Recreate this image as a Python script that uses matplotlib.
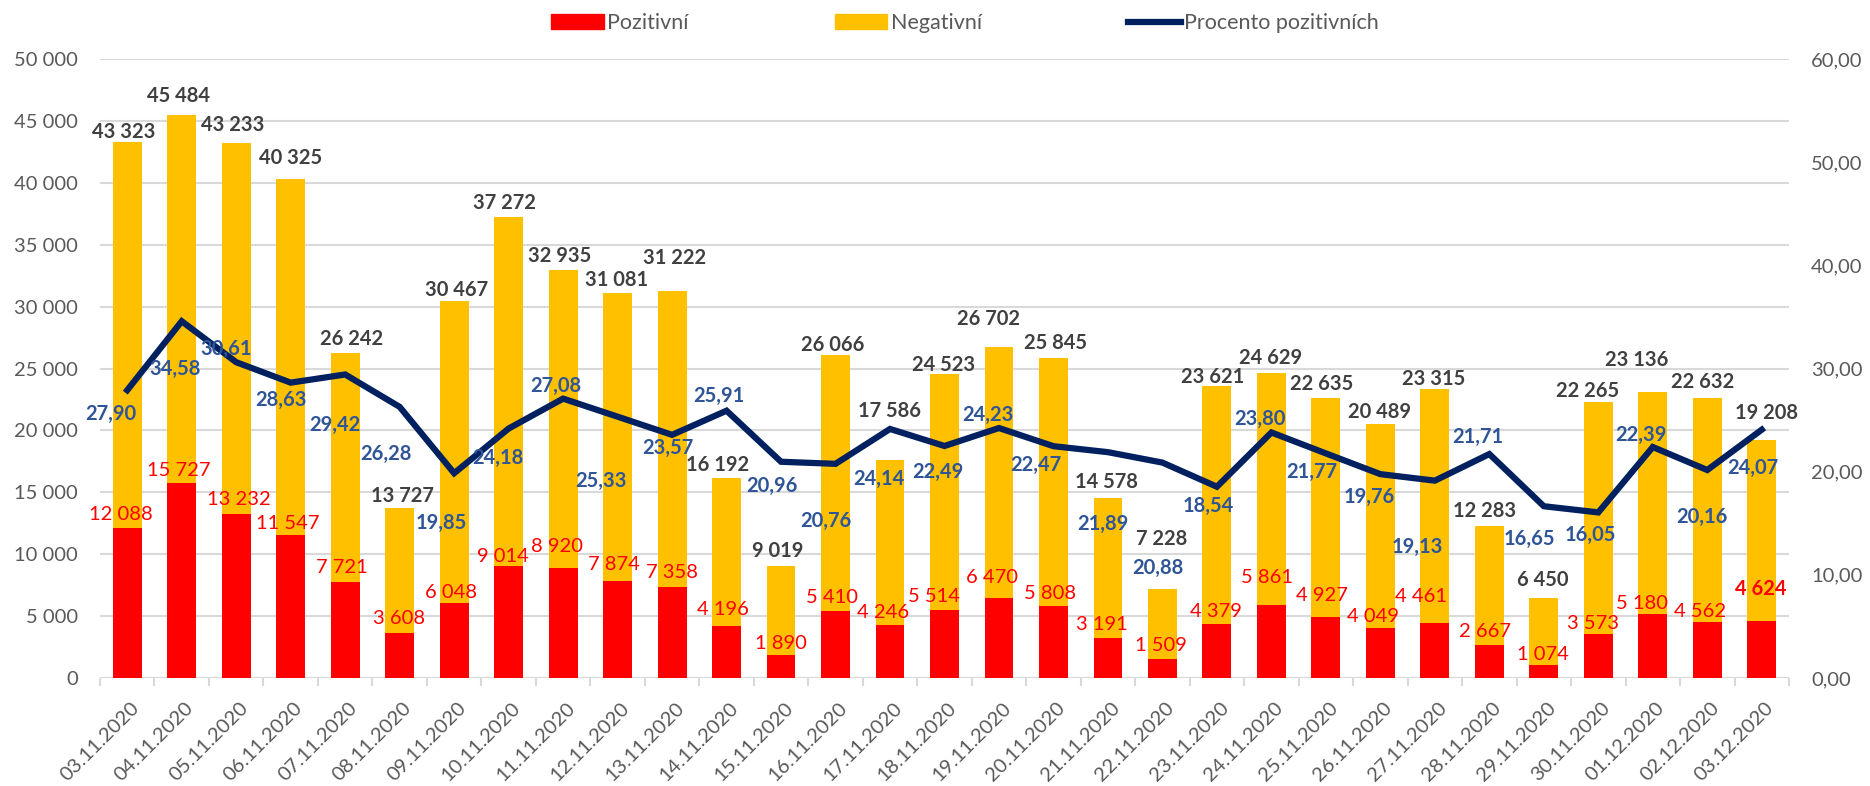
import matplotlib
matplotlib.use("Agg")
import matplotlib.pyplot as plt
from matplotlib.patches import Patch
from matplotlib.lines import Line2D
from matplotlib.transforms import ScaledTranslation
import numpy as np

# ---------------- data ----------------
dates = ["03.11.2020", "04.11.2020", "05.11.2020", "06.11.2020", "07.11.2020", "08.11.2020",
         "09.11.2020", "10.11.2020", "11.11.2020", "12.11.2020", "13.11.2020", "14.11.2020",
         "15.11.2020", "16.11.2020", "17.11.2020", "18.11.2020", "19.11.2020", "20.11.2020",
         "21.11.2020", "22.11.2020", "23.11.2020", "24.11.2020", "25.11.2020", "26.11.2020",
         "27.11.2020", "28.11.2020", "29.11.2020", "30.11.2020", "01.12.2020", "02.12.2020",
         "03.12.2020"]
totals = [43323, 45484, 43233, 40325, 26242, 13727, 30467, 37272, 32935, 31081, 31222,
          16192, 9019, 26066, 17586, 24523, 26702, 25845, 14578, 7228, 23621, 24629,
          22635, 20489, 23315, 12283, 6450, 22265, 23136, 22632, 19208]
positives = [12088, 15727, 13232, 11547, 7721, 3608, 6048, 9014, 8920, 7874, 7358,
             4196, 1890, 5410, 4246, 5514, 6470, 5808, 3191, 1509, 4379, 5861,
             4927, 4049, 4461, 2667, 1074, 3573, 5180, 4562, 4624]
percent = [27.90, 34.58, 30.61, 28.63, 29.42, 26.28, 19.85, 24.18, 27.08, 25.33, 23.57,
           25.91, 20.96, 20.76, 24.14, 22.49, 24.23, 22.47, 21.89, 20.88, 18.54, 23.80,
           21.77, 19.76, 19.13, 21.71, 16.65, 16.05, 22.39, 20.16, 24.07]
negatives = [t - p for t, p in zip(totals, positives)]

series_names = ["Pozitivní", "Negativní", "Procento pozitivních"]

# ---------------- label layout (offsets from the value anchor) ----------------
tot_dx = [-0.06, -0.06, -0.06, -0.01, 0.12, 0.05, 0.04, -0.07, -0.06, -0.01, 0.05,
          -0.17, -0.06, -0.05, -0.01, -0.02, -0.19, 0.04, -0.02, -0.02, -0.08, -0.01,
          -0.07, -0.02, -0.03, -0.08, -0.02, -0.20, -0.30, -0.08, 0.09]
tot_dy = [746, 1525, 1457, 1673, 1138, 1006, 872, 1118, 1182, 1090, 2742,
          1012, 1207, 847, 4012, 783, 2311, 1254, 1237, 4015, 666, 1233,
          1128, 1012, 811, 1231, 1465, 941, 2549, 1301, 2170]
pos_dx = [-0.11, -0.06, 0.05, -0.06, -0.06, -0.01, -0.06, -0.10, -0.11, -0.07, -0.01,
          -0.07, -0.01, -0.07, -0.13, -0.19, -0.13, -0.07, -0.12, -0.02, -0.02, -0.08,
          -0.08, -0.13, -0.25, -0.08, -0.02, -0.09, -0.19, -0.14, -0.02]
pos_dy = [1158, 1073, 1193, 932, 1204, 1158, 866, 776, 1701, 1269, 1163,
          1329, 913, 1100, 1028, 1093, 1688, 1041, 1098, 1140, 992, 2232,
          1736, 918, 2109, 1128, 784, 845, 853, 793, 2565]
pct_dx = [-0.30, -0.13, -0.19, -0.18, -0.19, -0.25, -0.24, -0.19, -0.13, -0.30, -0.08,
          -0.15, -0.17, -0.17, -0.21, -0.13, -0.21, -0.33, -0.09, -0.09, -0.15, -0.21,
          -0.26, -0.20, -0.32, -0.21, -0.27, -0.15, -0.21, -0.09, -0.16]
pct_dy = [-2.35, -4.58, 1.32, -1.67, -4.91, -4.56, -4.87, -2.89, 1.25, -6.20, -1.29,
          1.42, -2.35, -5.52, -4.82, -2.50, 1.24, -1.82, -6.99, -10.17, -1.90, 1.27,
          -1.78, -2.19, -6.46, 1.68, -3.21, -2.19, 1.16, -4.52, -3.74]

# ---------------- style ----------------
FONT = ["Lato", "DejaVu Sans"]
plt.rcParams["font.family"] = FONT
RED = "#FF0000"
YELLOW = "#FFC000"
NAVY = "#002060"
BLUE = "#2F5597"
DARK = "#404040"
GREY = "#595959"
GRID = "#D9D9D9"
FS = 14.5

fig = plt.figure(figsize=(18.7, 7.86), dpi=100)
ax = fig.add_axes([100 / 1870, 1 - 678 / 786, (1789 - 100) / 1870, (678 - 59) / 786])
ax2 = ax.twinx()

x = np.arange(len(dates))
bw = 0.53
ax.bar(x, positives, bw, color=RED, zorder=2, label=series_names[0])
ax.bar(x, negatives, bw, bottom=positives, color=YELLOW, zorder=2, label=series_names[1])
ax2.plot(x, percent, color=NAVY, lw=4.5, zorder=3, solid_joinstyle="miter",
         label=series_names[2])

ax.set_xlim(-0.5, len(dates) - 0.5)
ax.set_ylim(0, 50000)
ax2.set_ylim(0, 60)
ax.set_yticks(np.arange(0, 50001, 5000))
ax.set_yticklabels([f"{v:,}".replace(",", " ") for v in range(0, 50001, 5000)])
ax2.set_yticks(np.arange(0, 61, 10))
ax2.set_yticklabels([f"{v:.2f}".replace(".", ",") for v in range(0, 61, 10)])

ax.grid(axis="y", color=GRID, lw=1.5, zorder=0)
ax.set_axisbelow(True)
for a in (ax, ax2):
    for s in ("top", "left", "right", "bottom"):
        a.spines[s].set_visible(False)
ax.axhline(0, color=GRID, lw=1.5, zorder=1)

ax.tick_params(axis="y", length=0, pad=16, labelsize=FS, labelcolor=GREY)
ax2.tick_params(axis="y", length=0, pad=16, labelsize=FS, labelcolor=GREY)

# category boundary tick marks
ax.set_xticks(np.arange(-0.5, len(dates), 1.0), minor=True)
ax.tick_params(axis="x", which="minor", length=6, width=1.5, color=GRID)
ax.set_xticks(x)
ax.set_xticklabels(dates, rotation=45, ha="right", va="center", rotation_mode="anchor")
ax.tick_params(axis="x", which="major", length=0, pad=19.5, labelsize=14.5, labelcolor=GREY)
shift = ScaledTranslation(9 / 100, 0, fig.dpi_scale_trans)
for lab in ax.get_xticklabels():
    lab.set_transform(lab.get_transform() + shift)

# ---------------- data labels ----------------
for i in range(len(dates)):
    ax2.text(i + tot_dx[i], totals[i] + tot_dy[i], f"{totals[i]:,}".replace(",", " "),
             transform=ax.transData, ha="center", va="center", fontsize=FS,
             fontweight="bold", color=DARK, zorder=6)
    ax2.text(i + pos_dx[i], positives[i] + pos_dy[i], f"{positives[i]:,}".replace(",", " "),
             transform=ax.transData, ha="center", va="center", fontsize=FS,
             fontweight="bold" if i == len(dates) - 1 else "normal", color=RED, zorder=6)
    ax2.text(i + pct_dx[i], percent[i] + pct_dy[i], f"{percent[i]:.2f}".replace(".", ","),
             ha="center", va="center", fontsize=FS, fontweight="bold", color=BLUE, zorder=6)

# ---------------- legend ----------------
handles = [Patch(facecolor=RED, edgecolor=RED), Patch(facecolor=YELLOW, edgecolor=YELLOW),
           Line2D([0], [0], color=NAVY, lw=4.5)]
leg = fig.legend(handles, series_names, loc="center", bbox_to_anchor=(0.516, 1 - 23 / 786),
                 ncol=3, frameon=False, fontsize=15.5, handlelength=2.45, handleheight=0.65,
                 handletextpad=0.15, columnspacing=6.8)
for t in leg.get_texts():
    t.set_color(GREY)

fig.savefig("out.png", dpi=100)
